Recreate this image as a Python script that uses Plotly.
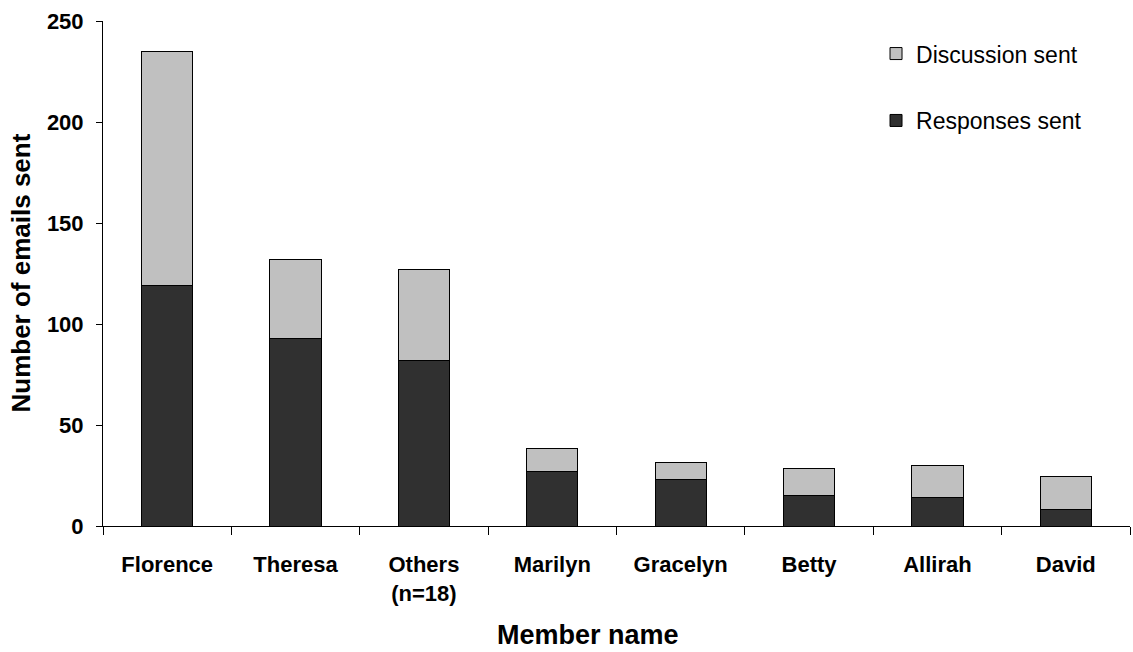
import plotly.graph_objects as go

members = ["Florence", "Theresa", "Others<br>(n=18)", "Marilyn", "Gracelyn", "Betty", "Allirah", "David"]
responses_sent = [119, 93, 82, 27, 23, 15, 14, 8]
totals = [235, 132, 127, 38.5, 31.6, 28.7, 30.2, 24.5]
discussion_sent = [round(t - r, 1) for t, r in zip(totals, responses_sent)]
y_ticks = [0, 50, 100, 150, 200, 250]

FONT = "Arial, 'Liberation Sans', sans-serif"

fig = go.Figure()
fig.add_trace(go.Bar(
    x=members, y=responses_sent, name="Responses sent", legendgroup="r", legendrank=2,
    marker=dict(color="#303030", line=dict(color="#000000", width=1)),
    width=0.4,
))
fig.add_trace(go.Bar(
    x=members, y=discussion_sent, name="Discussion sent", legendgroup="d", legendrank=1,
    marker=dict(color="#c0c0c0", line=dict(color="#000000", width=1)),
    width=0.4,
))

fig.update_layout(
    barmode="stack",
    width=1133, height=652,
    margin=dict(l=103, r=3, t=21, b=126),
    paper_bgcolor="white", plot_bgcolor="white",
    font=dict(family=FONT, color="black"),
    showlegend=True,
    legend=dict(
        x=0.7527, y=0.978, xanchor="left", yanchor="top",
        font=dict(size=23, family=FONT, color="black"),
        bgcolor="rgba(0,0,0,0)",
        traceorder="grouped",
        tracegroupgap=34,
        itemwidth=30,
    ),
    xaxis=dict(
        showline=True, linecolor="black", linewidth=1,
        ticks="outside", tickson="boundaries", ticklen=8, tickcolor="black",
        tickfont=dict(size=22, family=FONT, weight="bold"),
        ticklabelstandoff=19,
        showgrid=False,
    ),
    yaxis=dict(
        range=[0, 250], tickvals=y_ticks,
        showline=True, linecolor="black", linewidth=1,
        ticks="outside", ticklen=6, tickcolor="black",
        tickfont=dict(size=22, family=FONT, weight="bold"),
        ticklabelstandoff=8,
        showgrid=False, zeroline=False,
    ),
    annotations=[
        dict(text="<b>Member name</b>", xref="paper", yref="paper",
             x=(588 - 103) / 1027, y=(526.7 - 636) / 505.7,
             xanchor="center", yanchor="middle", showarrow=False,
             font=dict(size=27, family=FONT, color="black")),
        dict(text="<b>Number of emails sent</b>", xref="paper", yref="paper",
             x=(20 - 103) / 1027, y=0.5, textangle=-90,
             xanchor="center", yanchor="middle", showarrow=False,
             font=dict(size=26, family=FONT, color="black")),
    ],
)

fig.write_html("out.html")
